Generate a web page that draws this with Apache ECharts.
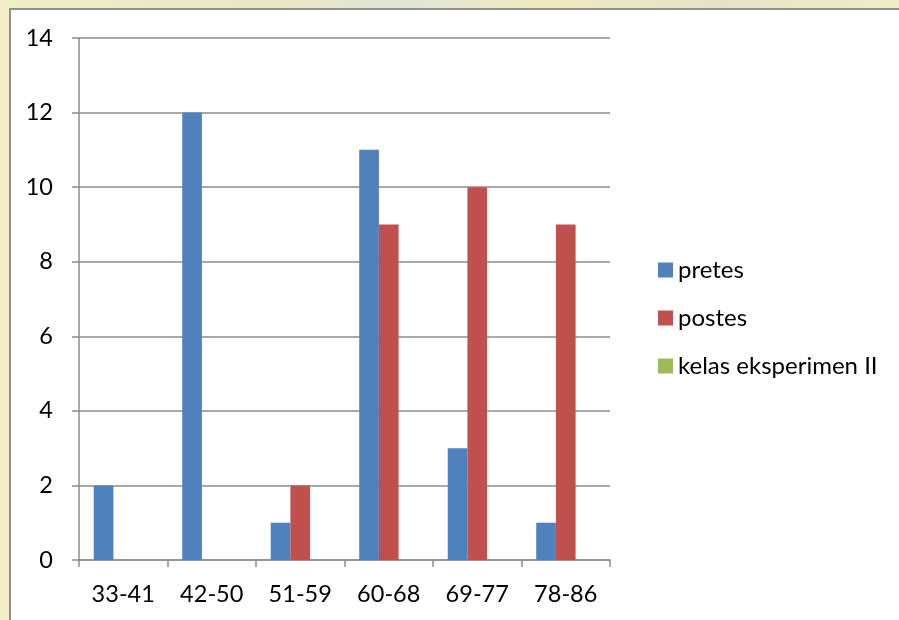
<!DOCTYPE html>
<html>
<head>
<meta charset="utf-8">
<title>pretes / postes</title>
<script src="https://cdn.jsdelivr.net/npm/echarts@6/dist/echarts.min.js"></script>
<style>
  html, body { margin: 0; padding: 0; }
  body {
    width: 899px; height: 620px; overflow: hidden; position: relative;
    background: linear-gradient(90deg, #f1eec6 0%, #e9e6c4 30%, #dfe5d6 45%, #efe9bf 60%, #e6e2c8 80%, #f0edc6 100%);
  }
  #frame {
    position: absolute; left: 9px; top: 8px; width: 900px; height: 620px;
    background: #ffffff; border-left: 2px solid #8f8f8f; border-top: 2px solid #8f8f8f;
  }
  #chart { position: absolute; left: 0; top: 0; width: 899px; height: 620px; }
</style>
</head>
<body>
<div id="frame"></div>
<div id="chart"></div>
<script>
// score ranges and frequency of each group
const categories = ['33-41', '42-50', '51-59', '60-68', '69-77', '78-86'];
const pretes = [2, 12, 1, 11, 3, 1];
const postes = [0, 0, 2, 9, 10, 9];
const kelasEksperimenII = [0, 0, 0, 0, 0, 0];
const yTicks = { min: 0, max: 14, interval: 2 };

const font = 'Lato, "Open Sans", sans-serif';
const gray = '#8c8c8c';
const fontSize = 23.5;

const chart = echarts.init(document.getElementById('chart'), null, { renderer: 'canvas' });
chart.setOption({
  backgroundColor: 'transparent',
  animation: false,
  textStyle: { fontFamily: font },
  grid: { left: 79, right: 289, top: 38, bottom: 60, containLabel: false },
  legend: {
    orient: 'vertical',
    left: 653,
    top: 253,
    itemWidth: 15,
    itemHeight: 15,
    itemGap: 24,
    icon: 'rect',
    textStyle: { fontFamily: font, fontSize: 24, color: '#000' },
    data: ['pretes', 'postes', 'kelas eksperimen II']
  },
  xAxis: {
    type: 'category',
    data: categories,
    axisLine: { lineStyle: { color: gray, width: 1.5 } },
    axisTick: { show: true, length: 7, alignWithLabel: false, lineStyle: { color: gray, width: 1.5 } },
    axisLabel: { color: '#000', fontSize: fontSize, fontFamily: font, margin: 22 }
  },
  yAxis: {
    type: 'value',
    min: yTicks.min,
    max: yTicks.max,
    interval: yTicks.interval,
    axisLine: { show: true, lineStyle: { color: gray, width: 1.5 } },
    axisTick: { show: true, length: 7, lineStyle: { color: gray, width: 1.5 } },
    axisLabel: { color: '#000', fontSize: fontSize, fontFamily: font, margin: 26 },
    splitLine: { show: true, lineStyle: { color: gray, width: 1.5 } }
  },
  series: [
    { name: 'pretes', type: 'bar', data: pretes, barGap: '0%', barCategoryGap: '33.3%',
      itemStyle: { color: '#4F81BD' } },
    { name: 'postes', type: 'bar', data: postes, barGap: '0%', barCategoryGap: '33.3%',
      itemStyle: { color: '#C0504D' } },
    { name: 'kelas eksperimen II', type: 'bar', data: kelasEksperimenII, barGap: '0%', barCategoryGap: '33.3%',
      itemStyle: { color: '#9BBB59' } }
  ]
});
</script>
</body>
</html>
